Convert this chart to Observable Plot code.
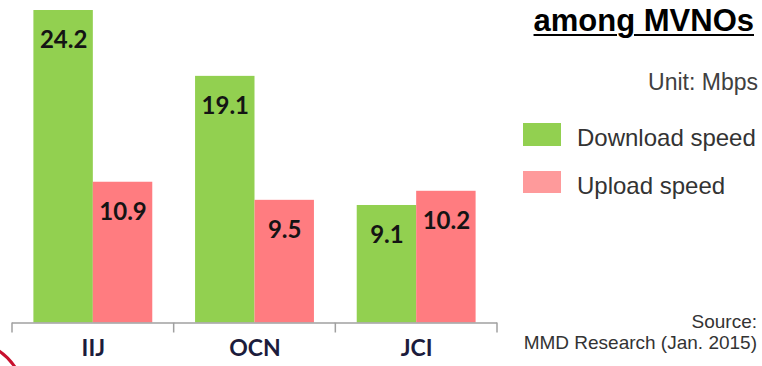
<!DOCTYPE html>
<html>
<head>
<meta charset="utf-8">
<script src="https://cdn.jsdelivr.net/npm/d3@7"></script>
<script src="https://cdn.jsdelivr.net/npm/@observablehq/plot@0.6"></script>
<style>
  html, body { margin: 0; padding: 0; background: #fff; }
  #wrap { position: relative; width: 762px; height: 366px; overflow: hidden; font-family: "Liberation Sans", Arial, sans-serif; }
  #wrap svg { display: block; }
  .t { position: absolute; line-height: 1; white-space: nowrap; }
  .sw { position: absolute; }
</style>
</head>
<body>
<div id="wrap">
  <div id="chart"></div>
  <div class="t" style="right:8px; top:5px; font-size:31px; font-weight:bold; color:#000; text-decoration:underline; text-decoration-thickness:2px; text-underline-offset:3px;">among MVNOs</div>
  <div class="t" style="right:4px; top:70.5px; font-size:23px; color:#404040;">Unit: Mbps</div>
  <div class="sw" style="left:523px; top:123px; width:38px; height:23px; background:#92d050;"></div>
  <div class="t" style="left:577px; top:125.7px; font-size:24px; color:#333;">Download speed</div>
  <div class="sw" style="left:523px; top:171px; width:38px; height:22px; background:#fe9a9b;"></div>
  <div class="t" style="left:577px; top:173.5px; font-size:24px; color:#333;">Upload speed</div>
  <div class="t" style="right:5px; top:311px; font-size:19px; color:#333; text-align:right; line-height:21px;">Source:<br>MMD Research (Jan. 2015)</div>
  <svg style="position:absolute; left:0; top:0; pointer-events:none;" width="762" height="366">
    <path d="M-1,351 Q8,357 15,367" fill="none" stroke="#c8102e" stroke-width="3"/>
  </svg>
</div>
<script>
const categories = ["IIJ", "OCN", "JCI"];
const series = ["Download speed", "Upload speed"];
const download = [24.2, 19.1, 9.1];
const upload = [10.9, 9.5, 10.2];
const barColors = ["#92d050", "#ff7c80"];

const rows = categories.flatMap((c, i) => [
  {cat: c, series: series[0], value: download[i]},
  {cat: c, series: series[1], value: upload[i]}
]);

const plot = Plot.plot({
  width: 762,
  height: 366,
  marginLeft: 12,
  marginRight: 265,
  marginTop: 10,
  marginBottom: 43.5,
  fx: {domain: categories, padding: 0, axis: null, round: false},
  x: {domain: series, paddingInner: 0, paddingOuter: 0.36, axis: null, round: false},
  y: {domain: [0, 24.2], axis: null},
  color: {domain: series, range: barColors},
  marks: [
    Plot.barY(rows, {fx: "cat", x: "series", y: "value", fill: "series"}),
    Plot.ruleY([0], {stroke: "#a0a0a0", strokeWidth: 1.5}),
    Plot.text(rows, {
      fx: "cat", x: "series", y: "value",
      text: d => d.value.toFixed(1),
      dy: 30, fontSize: 24, fontWeight: "bold", fontFamily: "Lato, sans-serif", fill: "#141414"
    }),
    Plot.text(categories, {
      fx: d => d, text: d => d, frameAnchor: "bottom",
      dy: 33, fontSize: 23, fontWeight: "bold", fontFamily: "Lato, sans-serif", fill: "#1c1c3c"
    })
  ]
});

// category boundary tick marks, placed from Plot's own scales
const fx = plot.scale("fx");
const ys = plot.scale("y");
const edges = categories.map(c => fx.apply(c));
edges.push(fx.apply(categories[categories.length - 1]) + fx.bandwidth);
const y0 = ys.apply(0);
d3.select(plot).append("g")
  .attr("stroke", "#a0a0a0").attr("stroke-width", 1.5)
  .selectAll("line").data(edges).join("line")
  .attr("x1", d => d).attr("x2", d => d)
  .attr("y1", y0).attr("y2", y0 + 10);

document.getElementById("chart").appendChild(plot);
</script>
</body>
</html>
